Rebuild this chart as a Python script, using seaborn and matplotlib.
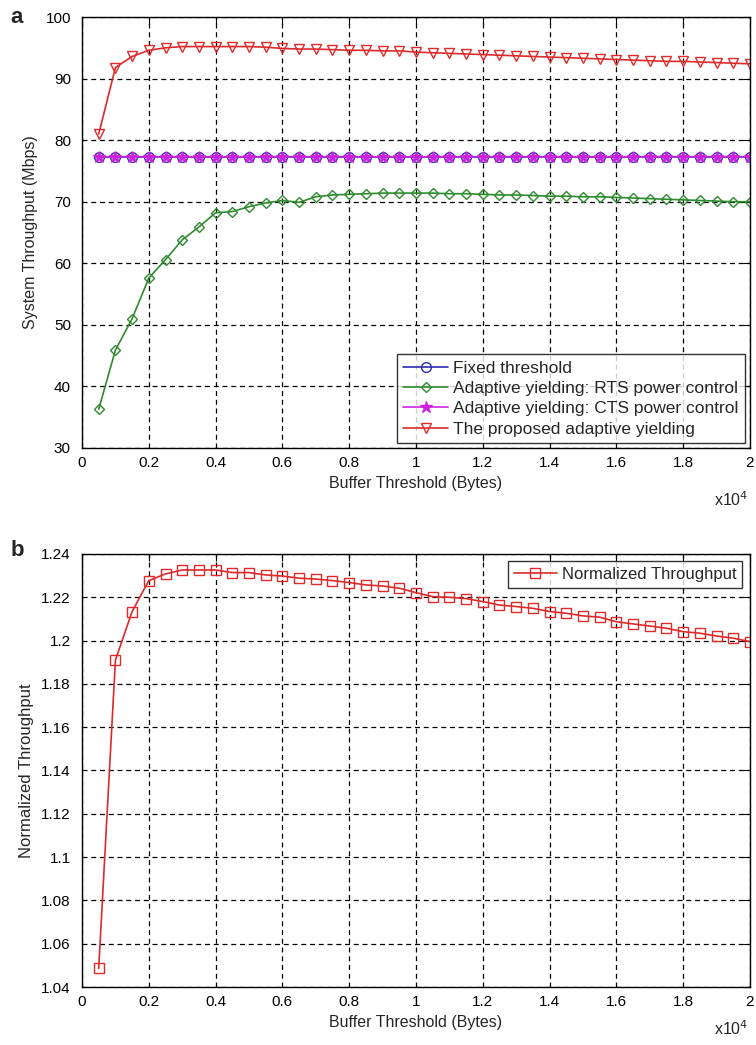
import numpy as np
import pandas as pd
import matplotlib
matplotlib.use("Agg")
import matplotlib.pyplot as plt
import seaborn as sns

# ---- data ----
buffer_x = [round(0.05 * i, 2) for i in range(1, 41)]  # x10^4 bytes

fixed_threshold = [77.2] * 40
cts_power = [77.2] * 40
rts_power = [36.3, 45.9, 51.0, 57.6, 60.6, 63.8, 65.9, 68.2, 68.4, 69.2,
             69.8, 70.2, 69.9, 70.8, 71.1, 71.2, 71.3, 71.4, 71.4, 71.4,
             71.4, 71.3, 71.3, 71.2, 71.1, 71.1, 71.0, 70.9, 70.9, 70.8,
             70.8, 70.7, 70.6, 70.5, 70.4, 70.3, 70.2, 70.1, 70.0, 70.0]
proposed = [81.0, 91.8, 93.6, 94.6, 95.0, 95.2, 95.2, 95.2, 95.2, 95.2,
            95.1, 94.9, 94.8, 94.8, 94.7, 94.6, 94.6, 94.5, 94.5, 94.3,
            94.2, 94.1, 94.0, 93.9, 93.8, 93.7, 93.6, 93.5, 93.4, 93.3,
            93.2, 93.1, 93.0, 92.9, 92.8, 92.8, 92.7, 92.6, 92.5, 92.4]
normalized = [1.0486, 1.1910, 1.2134, 1.2277, 1.2308, 1.2326, 1.2326, 1.2326, 1.2314, 1.2314,
              1.2303, 1.2298, 1.2288, 1.2284, 1.2277, 1.2268, 1.2257, 1.2252, 1.2242, 1.2221,
              1.2203, 1.2200, 1.2194, 1.2180, 1.2164, 1.2157, 1.2149, 1.2134, 1.2126, 1.2114,
              1.2108, 1.2087, 1.2077, 1.2067, 1.2057, 1.2041, 1.2034, 1.2021, 1.2011, 1.1995]

labels_top = ["Fixed threshold",
              "Adaptive yielding: RTS power control",
              "Adaptive yielding: CTS power control",
              "The proposed adaptive yielding"]
x_ticks = [0, 0.2, 0.4, 0.6, 0.8, 1, 1.2, 1.4, 1.6, 1.8, 2]
x_ticklabels = ["0", "0.2", "0.4", "0.6", "0.8", "1", "1.2", "1.4", "1.6", "1.8", "2"]
y_ticks_top = [30, 40, 50, 60, 70, 80, 90, 100]
y_ticks_bot = [1.04, 1.06, 1.08, 1.1, 1.12, 1.14, 1.16, 1.18, 1.2, 1.22, 1.24]
y_ticklabels_bot = ["1.04", "1.06", "1.08", "1.1", "1.12", "1.14", "1.16", "1.18", "1.2", "1.22", "1.24"]

sns.set_style("white")
plt.rcParams["font.family"] = ["Liberation Sans", "DejaVu Sans"]

fig = plt.figure(figsize=(7.56, 10.45), dpi=100)
ax1 = fig.add_axes([0.1085, 0.5713, 0.8835, 0.4124])
ax2 = fig.add_axes([0.1085, 0.0555, 0.8835, 0.4144])

grid_kw = dict(color="black", linestyle=(0, (4, 3)), linewidth=0.9)

def style_axis(ax):
    ax.set_xlim(0, 2)
    ax.set_xticks(x_ticks)
    ax.set_xticklabels(x_ticklabels)
    ax.grid(True, **grid_kw)
    ax.tick_params(direction="in", top=True, right=True, length=5, width=0.8,
                   labelsize=11, colors="black")
    ax.tick_params(axis="y", pad=8)
    ax.tick_params(axis="x", pad=6)
    for s in ax.spines.values():
        s.set_visible(True)
        s.set_color("black")
        s.set_linewidth(1.0)
    ax.set_axisbelow(True)

series = [
    (fixed_threshold, "#2b2bb0", "o", labels_top[0], "none", 7),
    (rts_power, "#2e8b2e", "D", labels_top[1], "none", 5.5),
    (cts_power, "#cc22dd", "*", labels_top[2], "#cc22dd", 9),
    (proposed, "#dd2a2a", "v", labels_top[3], "none", 7),
]
for vals, col, mk, lab, fc, ms in series:
    sns.lineplot(x=buffer_x, y=vals, ax=ax1, color=col, marker=mk, markersize=ms,
                 markerfacecolor=fc, markeredgecolor=col, markeredgewidth=1.0,
                 linewidth=1.2, label=lab)

style_axis(ax1)
ax1.set_ylim(30, 100)
ax1.set_yticks(y_ticks_top)
ax1.set_xlabel("Buffer Threshold (Bytes)", fontsize=11.5, labelpad=4)
ax1.set_ylabel("System Throughput (Mbps)", fontsize=11.5, labelpad=5)
leg1 = ax1.legend(loc="lower right", fontsize=12.5, frameon=True, fancybox=False,
                  edgecolor="black", borderpad=0.35, labelspacing=0.3,
                  handlelength=2.6, handletextpad=0.3, borderaxespad=0.3)
leg1.get_frame().set_linewidth(1.0)

sns.lineplot(x=buffer_x, y=normalized, ax=ax2, color="#dd2a2a", marker="s", markersize=7,
             markerfacecolor="none", markeredgecolor="#dd2a2a", markeredgewidth=1.0,
             linewidth=1.2, label="Normalized Throughput")
style_axis(ax2)
ax2.set_ylim(1.04, 1.24)
ax2.set_yticks(y_ticks_bot)
ax2.set_yticklabels(y_ticklabels_bot)
ax2.set_xlabel("Buffer Threshold (Bytes)", fontsize=11.5, labelpad=4)
ax2.set_ylabel("Normalized Throughput", fontsize=12, labelpad=5)
leg2 = ax2.legend(loc="upper right", fontsize=12, frameon=True, fancybox=False,
                  edgecolor="black", borderpad=0.35, handlelength=2.6,
                  handletextpad=0.3, borderaxespad=0.45)
leg2.get_frame().set_linewidth(1.0)

for ax, off in ((ax1, 52), (ax2, 42)):
    ax.annotate(r"x10$^4$", xy=(0.997, 0.0), xycoords="axes fraction",
                xytext=(0, -off * 0.72), textcoords="offset points",
                ha="right", va="center", fontsize=11.5)

fig.text(0.014, 0.993, "a", fontsize=16, fontweight="bold", va="top", ha="left")
fig.text(0.014, 0.483, "b", fontsize=16, fontweight="bold", va="top", ha="left")

fig.savefig("out.png", dpi=100, facecolor="white")
